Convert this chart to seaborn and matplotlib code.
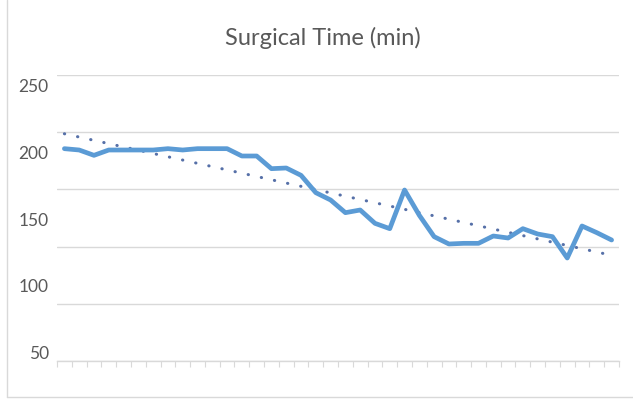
import numpy as np
import pandas as pd
import matplotlib
matplotlib.use("Agg")
import matplotlib.pyplot as plt
from matplotlib.lines import Line2D
import seaborn as sns

# Surgical time per consecutive case (minutes)
case_index = list(range(38))
surgical_time = [203, 202, 198, 202, 202, 202, 202, 203, 202, 203,
                 203, 203, 197.5, 197.5, 188, 188.5, 183, 170, 164.5, 155,
                 157, 147, 143, 172, 153, 137, 131.5, 132, 132, 137.5,
                 136, 143, 139, 137, 121, 145, 140, 134.5]
y_tick_values = [50, 100, 150, 200, 250]
title_text = "Surgical Time (min)"

df = pd.DataFrame({"case": case_index, "time": surgical_time})

sns.set_style("white")
plt.rcParams["font.family"] = ["Lato", "DejaVu Sans"]

TEXT = "#595959"
GRID = "#D9D9D9"
BLUE = "#5B9BD5"

fig = plt.figure(figsize=(6.33, 4.03), dpi=100)
ax = fig.add_axes([57 / 633, 1 - 361 / 403, (619 - 57) / 633, (361 - 75) / 403])

# series line
sns.lineplot(data=df, x="case", y="time", ax=ax, color=BLUE, linewidth=3.4,
             solid_capstyle="round", solid_joinstyle="round", zorder=3)

# linear trendline, drawn as round dots
sns.regplot(data=df, x="case", y="time", ax=ax, scatter=False, ci=None,
            line_kws=dict(color="#5670A8", linewidth=2.2,
                          linestyle=(0, (0.1, 4.3)), dash_capstyle="round"),
            truncate=True)

lo, hi = 43.75, 258.25
ax.set_ylim(lo, hi)
ax.set_xlim(-0.5, len(case_index) - 0.5)

# value labels
ax.set_yticks(y_tick_values)
ax.set_yticklabels([str(v) for v in y_tick_values], color=TEXT, fontsize=12.5)
ax.tick_params(axis="y", which="major", length=0, pad=6)

# horizontal gridlines, evenly spaced over the plot area
ax.set_yticks(np.linspace(lo, hi, 6), minor=True)
ax.tick_params(axis="y", which="minor", length=0)
ax.grid(False)
ax.grid(True, axis="y", which="minor", color=GRID, linewidth=1.0)

# category axis with boundary tick marks
ax.set_xticks([])
ax.set_xticks(np.arange(-0.5, len(case_index), 1), minor=True)
ax.tick_params(axis="x", which="minor", length=4, width=0.8, color=GRID,
               direction="out", bottom=True)
ax.set_xlabel("")
ax.set_ylabel("")

for s in ["top", "right", "left"]:
    ax.spines[s].set_visible(False)
ax.spines["bottom"].set_color(GRID)
ax.spines["bottom"].set_linewidth(1.0)

fig.text(0.51, 1 - 45 / 403, title_text, ha="center", va="baseline",
         fontsize=17, color=TEXT)

# chart frame
fig.add_artist(Line2D([7 / 633, 7 / 633], [1 - 397 / 403, 1.0],
                      transform=fig.transFigure, color=GRID, linewidth=1.0))
fig.add_artist(Line2D([7 / 633, 1.0], [1 - 397 / 403, 1 - 397 / 403],
                      transform=fig.transFigure, color=GRID, linewidth=1.0))

fig.savefig("out.png", dpi=100, facecolor="white")
